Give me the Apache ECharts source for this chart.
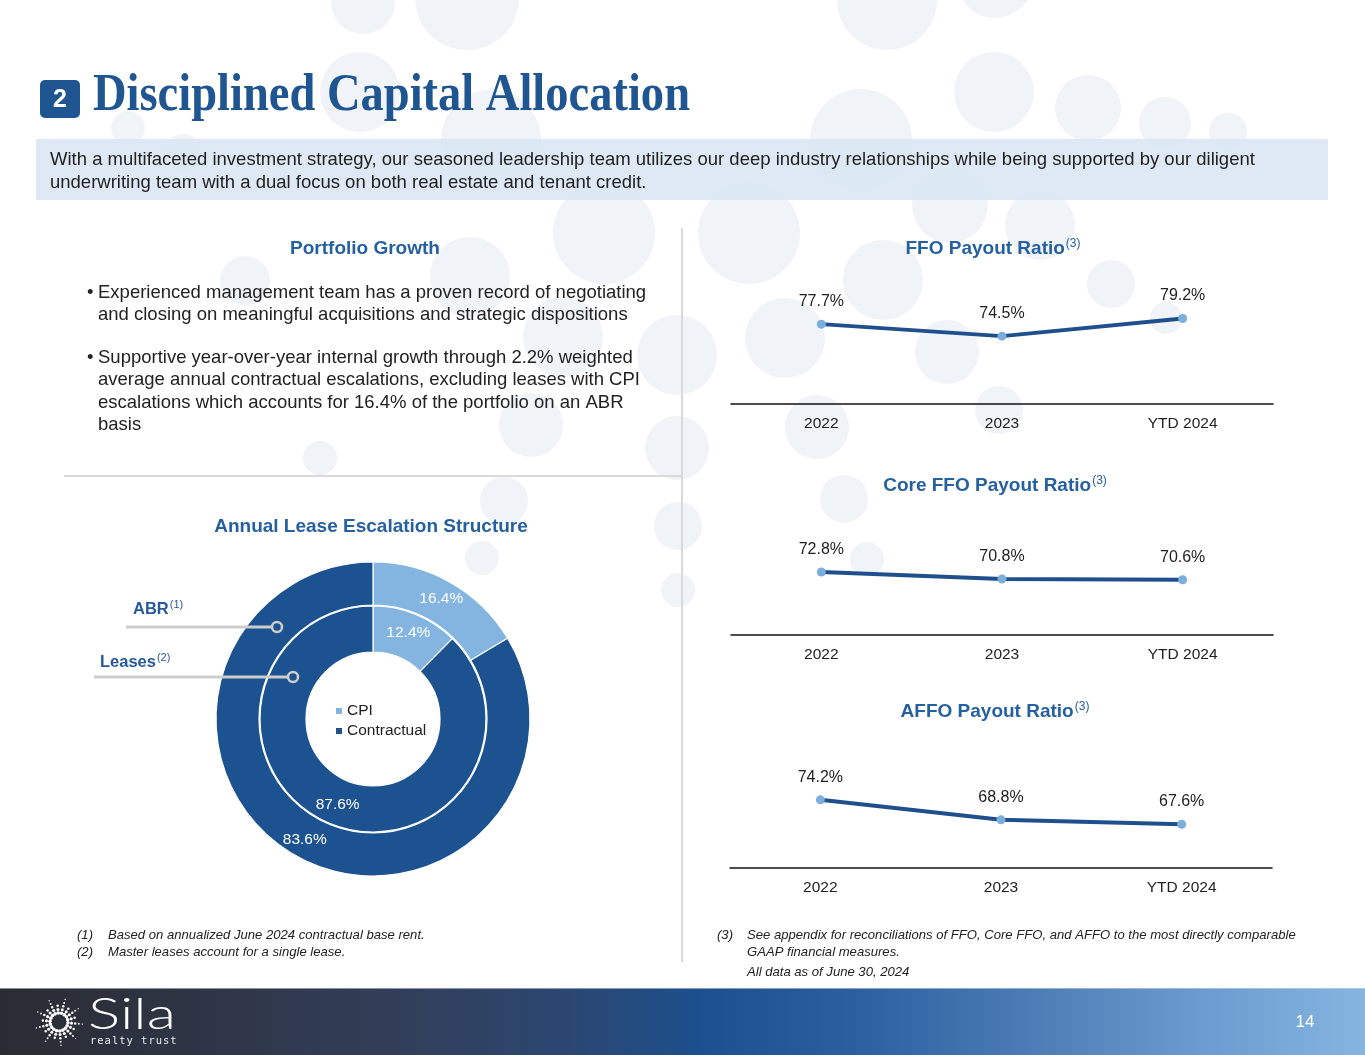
<!DOCTYPE html>
<html>
<head>
<meta charset="utf-8">
<title>Disciplined Capital Allocation</title>
<script src="https://cdn.jsdelivr.net/npm/echarts/dist/echarts.min.js"></script>
<style>
  html, body { margin: 0; padding: 0; background: #ffffff; }
  #c { width: 1365px; height: 1055px; }
</style>
</head>
<body>
<div id="c"></div>
<script>
// ---------------- DATA ----------------
const years = ['2022', '2023', 'YTD 2024'];
const ffoPayout = [77.7, 74.5, 79.2];
const coreFfoPayout = [72.8, 70.8, 70.6];
const affoPayout = [74.2, 68.8, 67.6];
const escalationTypes = ['CPI', 'Contractual'];
const abrShare = [16.4, 83.6];     // outer ring (ABR)
const leaseShare = [12.4, 87.6];   // inner ring (Leases)

// ---------------- TEXTS ----------------
const titleText = 'Disciplined Capital Allocation';
const bandLines = [
  'With a multifaceted investment strategy, our seasoned leadership team utilizes our deep industry relationships while being supported by our diligent',
  'underwriting team with a dual focus on both real estate and tenant credit.'
];
const bullet1 = ['Experienced management team has a proven record of negotiating',
                 'and closing on meaningful acquisitions and strategic dispositions'];
const bullet2 = ['Supportive year-over-year internal growth through 2.2% weighted',
                 'average annual contractual escalations, excluding leases with CPI',
                 'escalations which accounts for 16.4% of the portfolio on an ABR',
                 'basis'];

// ---------------- LAYOUT (decoration) ----------------
const bgBubbles = [
  [128,128,17],[183,153,19],[245,281,25],[320,458,17],
  [363,2,32],[360,92,40],[467,-2,52],[491,140,50],
  [604,233,51],[749,233,51],[883,280,40],[785,338,40],[947,352,32],
  [470,277,40],[563,337,40],[677,355,40],[531,425,32],[677,448,32],
  [817,427,32],[999,410,24],[1111,284,24],[1166,318,16],[1040,225,35],
  [504,501,24],[482,558,17],[678,526,24],[678,590,17],[844,499,24],[867,559,17],
  [887,0,50],[995,-20,38],[994,92,40],[861,140,51],[1088,108,33],[1165,123,26],[1228,132,19],
  [950,205,38]
];

const FONT = "'Liberation Sans', Arial, Helvetica, sans-serif";
const mctx = document.createElement('canvas').getContext('2d');
function tw(t, size, weight, fam, style) {
  mctx.font = (style || 'normal') + ' ' + (weight || 'normal') + ' ' + size + 'px ' + (fam || FONT);
  return mctx.measureText(t).width;
}
function txt(x, y, text, o) {
  o = o || {};
  const el = {
    type: 'text', x: x, y: y, z: o.z || 20, silent: true,
    style: {
      text: text,
      fontSize: o.size || 18,
      fontFamily: o.fam || FONT,
      fontWeight: o.weight || 'normal',
      fontStyle: o.fstyle || 'normal',
      fill: o.color || '#222222',
      align: o.align || 'left', textAlign: o.align || 'left',
      verticalAlign: o.va || 'middle', textVerticalAlign: o.va || 'middle'
    }
  };
  if (o.scaleX) { el.scaleX = o.scaleX; }
  return el;
}
function supTitle(cx, cy, main, sup, size, supSize, color) {
  const w1 = tw(main, size, 'bold');
  const w2 = tw(sup, supSize, 'normal');
  const left = cx - (w1 + w2 + 1) / 2;
  return [
    txt(left, cy, main, { size: size, weight: 'bold', color: color }),
    txt(left + w1 + 1, cy - size * 0.28, sup, { size: supSize, color: color })
  ];
}

const HEAD = '#2560a0';
const g = [];

// background bubbles
bgBubbles.forEach(function (b) {
  g.push({ type: 'circle', silent: true, z: 0, shape: { cx: b[0], cy: b[1], r: b[2] }, style: { fill: '#f0f3f7' } });
});

// header badge + title
g.push({ type: 'rect', silent: true, z: 5, shape: { x: 40, y: 80, width: 40, height: 38, r: 5 }, style: { fill: '#1f5591' } });
g.push(txt(60, 100, '2', { size: 25, weight: 'bold', color: '#ffffff', align: 'center' }));
(function () {
  const size = 52;
  const w = tw(titleText, size, 'bold', "'Liberation Serif', 'DejaVu Serif', serif");
  g.push(txt(93, 97, titleText, { size: size, weight: 'bold', fam: "'Liberation Serif', 'DejaVu Serif', serif", color: '#1f5591', scaleX: 597 / w }));
})();

// band
g.push({ type: 'rect', silent: true, z: 3, shape: { x: 36, y: 139, width: 1292, height: 61 }, style: { fill: 'rgba(216,229,243,0.85)' } });
g.push(txt(50, 160, bandLines[0], { size: 18.5 }));
g.push(txt(50, 183, bandLines[1], { size: 18.5 }));

// dividers
g.push({ type: 'line', silent: true, z: 4, shape: { x1: 682, y1: 228, x2: 682, y2: 962 }, style: { stroke: '#d9d9d9', lineWidth: 2 } });
g.push({ type: 'line', silent: true, z: 4, shape: { x1: 64, y1: 476, x2: 682, y2: 476 }, style: { stroke: '#d9d9d9', lineWidth: 2 } });

// left panel texts
g.push(txt(365, 249, 'Portfolio Growth', { size: 19, weight: 'bold', color: HEAD, align: 'center' }));
[[bullet1, 293], [bullet2, 358]].forEach(function (b) {
  g.push(txt(87, b[1], '•', { size: 18.5 }));
  b[0].forEach(function (line, i) { g.push(txt(98, b[1] + i * 22.3, line, { size: 18.5 })); });
});
g.push(txt(371, 527, 'Annual Lease Escalation Structure', { size: 19, weight: 'bold', color: HEAD, align: 'center' }));

// ABR / Leases callouts
g.push(txt(133, 609, 'ABR', { size: 16.5, weight: 'bold', color: '#28599a' }));
g.push(txt(133 + tw('ABR', 16.5, 'bold') + 1, 605, '(1)', { size: 11, color: '#28599a' }));
g.push(txt(100, 662, 'Leases', { size: 16.5, weight: 'bold', color: '#28599a' }));
g.push(txt(100 + tw('Leases', 16.5, 'bold') + 1, 658, '(2)', { size: 11, color: '#28599a' }));
g.push({ type: 'line', silent: true, z: 30, shape: { x1: 126, y1: 627, x2: 272, y2: 627 }, style: { stroke: '#cdcdcd', lineWidth: 3 } });
g.push({ type: 'circle', silent: true, z: 30, shape: { cx: 277, cy: 627, r: 5 }, style: { fill: 'none', stroke: '#cdcdcd', lineWidth: 2.5 } });
g.push({ type: 'line', silent: true, z: 30, shape: { x1: 94, y1: 677, x2: 288, y2: 677 }, style: { stroke: '#cdcdcd', lineWidth: 3 } });
g.push({ type: 'circle', silent: true, z: 30, shape: { cx: 293, cy: 677, r: 5 }, style: { fill: 'none', stroke: '#cdcdcd', lineWidth: 2.5 } });

// right panel titles
supTitle(993, 249, 'FFO Payout Ratio', '(3)', 19, 12, HEAD).forEach(function (e) { g.push(e); });
supTitle(995, 486, 'Core FFO Payout Ratio', '(3)', 19, 12, HEAD).forEach(function (e) { g.push(e); });
supTitle(995, 712, 'AFFO Payout Ratio', '(3)', 19, 12, HEAD).forEach(function (e) { g.push(e); });

// footnotes
const FN = { size: 13.1, fstyle: 'italic', color: '#222222' };
g.push(txt(77, 935, '(1)', FN));
g.push(txt(108, 935, 'Based on annualized June 2024 contractual base rent.', FN));
g.push(txt(77, 952, '(2)', FN));
g.push(txt(108, 952, 'Master leases account for a single lease.', FN));
g.push(txt(717, 935, '(3)', FN));
g.push(txt(747, 935, 'See appendix for reconciliations of FFO, Core FFO, and AFFO to the most directly comparable', FN));
g.push(txt(747, 952, 'GAAP financial measures.', FN));
g.push(txt(747, 972, 'All data as of June 30, 2024', FN));

// footer bar
g.push({
  type: 'rect', silent: true, z: 5, shape: { x: 0, y: 988, width: 1365, height: 67 },
  style: { fill: { type: 'linear', x: 0, y: 0, x2: 1, y2: 0, colorStops: [
    { offset: 0, color: '#2a2c33' }, { offset: 0.15, color: '#2f3546' }, { offset: 0.3, color: '#323f5a' },
    { offset: 0.42, color: '#2b4772' }, { offset: 0.51, color: '#1c4f8d' }, { offset: 0.62, color: '#2a5e9f' },
    { offset: 0.75, color: '#4a7bb4' }, { offset: 0.88, color: '#6b9bcf' }, { offset: 1, color: '#86b5e0' }
  ] } }
});
g.push({ type: 'line', silent: true, z: 6, shape: { x1: 0, y1: 988.5, x2: 1365, y2: 988.5 }, style: { stroke: 'rgba(200,210,225,0.6)', lineWidth: 1 } });
// starburst logo
(function () {
  const cx = 59, cy = 1022;
  const rays = 18;
  for (let k = 0; k < rays; k++) {
    const a = (k / rays) * Math.PI * 2 + 0.09;
    const n = (k % 2 === 0) ? 5 : 3;
    for (let j = 0; j < n; j++) {
      const rr = 9 + j * 3.6;
      g.push({ type: 'circle', silent: true, z: 8,
        shape: { cx: cx + rr * Math.cos(a), cy: cy + rr * Math.sin(a), r: Math.max(0.7, 1.8 - j * 0.28) },
        style: { fill: '#ffffff' } });
    }
  }
})();
(function () {
  const fam = "Lato, 'Open Sans', 'Liberation Sans', sans-serif";
  const w = tw('Sila', 44, 300, fam);
  g.push(txt(88, 1015, 'Sila', { size: 44, weight: 300, fam: fam, color: '#ffffff', scaleX: 88 / w }));
})();
(function () {
  const s = 'realty trust';
  let x = 90;
  for (let i = 0; i < s.length; i++) {
    g.push(txt(x, 1041, s[i], { size: 10.5, fam: "'DejaVu Sans Mono', monospace", color: '#e8ecf2' }));
    x += 7.3;
  }
})();
g.push(txt(1305, 1022, '14', { size: 17, color: '#ffffff', align: 'center' }));

// ---------------- CHART OPTION ----------------
const LINE_COLOR = '#1f4f8d';
const DOT_COLOR = '#7caedc';
function lineSeries(idx, data) {
  return {
    type: 'line', xAxisIndex: idx, yAxisIndex: idx, data: data, z: 10,
    symbol: 'circle', symbolSize: 9, showSymbol: true,
    lineStyle: { color: LINE_COLOR, width: 4 },
    itemStyle: { color: DOT_COLOR },
    label: { show: true, position: 'top', distance: 10, fontSize: 16, fontFamily: FONT, color: '#222222',
             formatter: function (p) { return p.value.toFixed(1) + '%'; } },
    emphasis: { disabled: true }, animation: false
  };
}
function xAx(idx) {
  return {
    gridIndex: idx, type: 'category', data: years, boundaryGap: true,
    axisLine: { show: true, lineStyle: { color: '#111111', width: 1.5 } },
    axisTick: { show: false },
    axisLabel: { fontSize: 15.5, fontFamily: FONT, color: '#222222', margin: 12 },
    splitLine: { show: false }
  };
}
function yAx(idx, min, max) {
  return { gridIndex: idx, type: 'value', min: min, max: max, show: false, splitLine: { show: false } };
}

const option = {
  backgroundColor: '#ffffff',
  animation: false,
  graphic: { elements: g },
  grid: [
    { left: 731, width: 542, top: 284, height: 120 },
    { left: 731, width: 542, top: 515, height: 120 },
    { left: 730, width: 542, top: 748, height: 120 }
  ],
  xAxis: [xAx(0), xAx(1), xAx(2)],
  yAxis: [yAx(0, 56.4, 88.4), yAx(1, 54.8, 89.1), yAx(2, 55.8, 88.2)],
  legend: {
    data: escalationTypes, orient: 'vertical', left: 329, top: 698,
    icon: 'rect', itemWidth: 8, itemHeight: 8, itemGap: 4,
    textStyle: { fontSize: 15.5, fontFamily: FONT, color: '#222222', padding: [0, 0, 0, -1] },
    selectedMode: false
  },
  series: [
    {
      type: 'pie', name: 'ABR', center: [373, 719], radius: [114, 157], startAngle: 90, clockwise: true, z: 5,
      data: escalationTypes.map(function (n, i) { return { name: n, value: abrShare[i] }; }),
      itemStyle: { borderColor: '#ffffff', borderWidth: 1.2 },
      color: ['#84b4e0', '#1d5291'],
      label: { show: true, position: 'inside', fontSize: 15.5, fontFamily: FONT, color: '#ffffff',
               formatter: function (p) { return p.value.toFixed(1) + '%'; } },
      labelLine: { show: false }, emphasis: { disabled: true }, silent: true
    },
    {
      type: 'pie', name: 'Leases', center: [373, 719], radius: [67, 113], startAngle: 90, clockwise: true, z: 5,
      data: escalationTypes.map(function (n, i) { return { name: n, value: leaseShare[i] }; }),
      itemStyle: { borderColor: '#ffffff', borderWidth: 1.2 },
      color: ['#84b4e0', '#1d5291'],
      label: { show: true, position: 'inside', fontSize: 15.5, fontFamily: FONT, color: '#ffffff',
               formatter: function (p) { return p.value.toFixed(1) + '%'; } },
      labelLine: { show: false }, emphasis: { disabled: true }, silent: true
    },
    lineSeries(0, ffoPayout),
    lineSeries(1, coreFfoPayout),
    lineSeries(2, affoPayout)
  ]
};

const chart = echarts.init(document.getElementById('c'), null, { renderer: 'canvas', width: 1365, height: 1055 });
chart.setOption(option);
</script>
</body>
</html>
